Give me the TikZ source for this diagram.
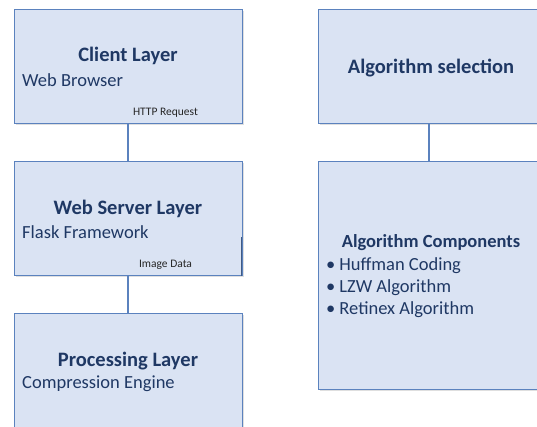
\documentclass[tikz,border=0pt]{standalone}
\usepackage{fontspec}
\setmainfont{Carlito}
\usetikzlibrary{shadows}
\definecolor{boxfill}{HTML}{DAE3F3}
\definecolor{boxline}{HTML}{5B82BE}
\definecolor{navy}{HTML}{1F3864}
\definecolor{lbl}{HTML}{262626}
\tikzset{
  layerbox/.style={draw=boxline, line width=1.3pt, fill=boxfill, inner sep=0pt, anchor=north west,
    drop shadow={shadow xshift=1.2pt, shadow yshift=-1.2pt, opacity=0.25}},
  link/.style={draw=boxline, line width=1.6pt},
  title/.style={font=\fontsize{20.5}{24}\selectfont\bfseries, text=navy, inner sep=0pt},
  subtitle/.style={font=\fontsize{18.5}{22}\selectfont, text=navy, inner sep=0pt, anchor=west},
  small/.style={font=\fontsize{11.5}{14}\selectfont, text=lbl, inner sep=0pt},
}
\begin{document}
\begin{tikzpicture}[x=1pt,y=-1pt]
\useasboundingbox (0,0) rectangle (537,426);
\clip (0,0) rectangle (537,426);
% boxes
\node[layerbox, minimum width=228pt, minimum height=114pt] (client) at (14,9) {};
\node[layerbox, minimum width=228pt, minimum height=114pt] (server) at (14,161) {};
\node[layerbox, minimum width=228pt, minimum height=140pt] (proc) at (14,313) {};
\node[layerbox, minimum width=240pt, minimum height=114pt] (sel) at (318,9) {};
\node[layerbox, minimum width=240pt, minimum height=228pt] (comp) at (318,161) {};
% connectors
\coordinate (c1) at (128,123);
\coordinate (c2) at (128,161);
\coordinate (c3) at (128,275);
\coordinate (c4) at (128,313);
\coordinate (c5) at (429,123);
\coordinate (c6) at (429,161);
\draw[link] (c1) -- (c2);
\draw[link] (c3) -- (c4);
\draw[link] (c5) -- (c6);
\coordinate (e1) at (241.5,237);
\coordinate (e2) at (241.5,276);
\draw[draw=boxline!70!black, line width=1.2pt] (e1) -- (e2);
% texts
\node[title] (t1) at (128,56) {Client Layer};
\node[subtitle] (s1) at (22,80) {Web Browser};
\node[small] (l1) at (165.5,112.5) {HTTP Request};
\node[title] (t2) at (128,209) {Web Server Layer};
\node[subtitle] (s2) at (22,232) {Flask Framework};
\node[small] (l2) at (165.5,264.5) {Image Data};
\node[title] (t3) at (128,361) {Processing Layer};
\node[subtitle] (s3) at (22,384) {Compression Engine};
\node[title] (t4) at (431,68) {Algorithm selection};
\node[title, font=\fontsize{18.5}{22}\selectfont\bfseries] (t5) at (431,243) {Algorithm Components};
\node[subtitle] (b1) at (326,266) {\textbullet\hspace{4pt}Huffman Coding};
\node[subtitle] (b2) at (326,288) {\textbullet\hspace{4pt}LZW Algorithm};
\node[subtitle] (b3) at (326,310) {\textbullet\hspace{4pt}Retinex Algorithm};
\end{tikzpicture}
\end{document}
